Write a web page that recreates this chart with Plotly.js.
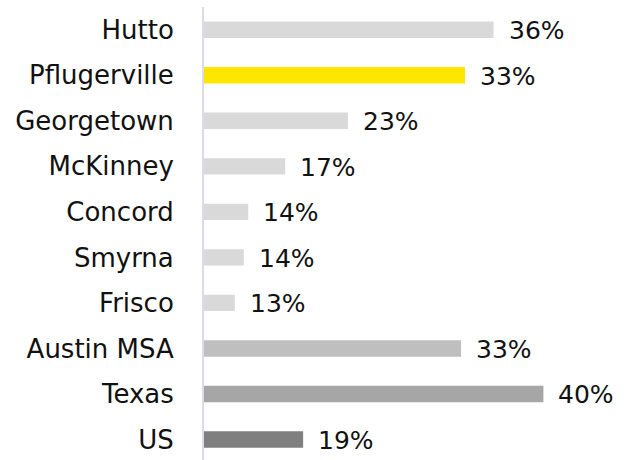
<!DOCTYPE html>
<html>
<head>
<meta charset="utf-8">
<script src="https://cdn.plot.ly/plotly-3.0.1.min.js"></script>
<style>html,body{margin:0;padding:0;background:#fff;}#chart{width:626px;height:460px;}</style>
</head>
<body>
<div id="chart"></div>
<script>
var categories = ["Hutto", "Pflugerville", "Georgetown", "McKinney", "Concord", "Smyrna", "Frisco", "Austin MSA", "Texas", "US"];
var values = [36.0, 33.45, 23.0, 17.4, 14.1, 13.7, 12.9, 33.1, 40.45, 19.0];
var valueLabels = ["36%", "33%", "23%", "17%", "14%", "14%", "13%", "33%", "40%", "19%"];
var barColors = ["#d9d9d9", "#ffe600", "#d9d9d9", "#d9d9d9", "#d9d9d9", "#d9d9d9", "#d9d9d9", "#bfbfbf", "#a6a6a6", "#7f7f7f"];

var trace = {
  type: "bar",
  orientation: "h",
  y: categories,
  x: values,
  width: 0.36,
  marker: {color: barColors, line: {width: 0}},
  hoverinfo: "skip"
};

var annotations = categories.map(function (c, i) {
  return {
    x: values[i], y: c, xref: "x", yref: "y",
    text: valueLabels[i], showarrow: false,
    xanchor: "left", yanchor: "middle", xshift: 13, yshift: -1,
    font: {family: "DejaVu Sans", size: 25, color: "#111111"}
  };
});

var layout = {
  width: 626, height: 460,
  margin: {l: 204, r: 22, t: 7, b: 0, pad: 0},
  paper_bgcolor: "#ffffff", plot_bgcolor: "#ffffff",
  showlegend: false,
  font: {family: "DejaVu Sans", size: 26, color: "#111111"},
  xaxis: {range: [10.15, 45.86], visible: false, showgrid: false, zeroline: false, fixedrange: true},
  yaxis: {
    type: "category", range: [9.45, -0.5],
    showline: true, linecolor: "#dcdce6", linewidth: 2,
    showgrid: false, zeroline: false, ticks: "",
    ticklabelstandoff: 23,
    tickfont: {family: "DejaVu Sans", size: 26, color: "#111111"},
    fixedrange: true
  },
  annotations: annotations
};

Plotly.newPlot("chart", [trace], layout, {displayModeBar: false, staticPlot: true});
</script>
</body>
</html>
